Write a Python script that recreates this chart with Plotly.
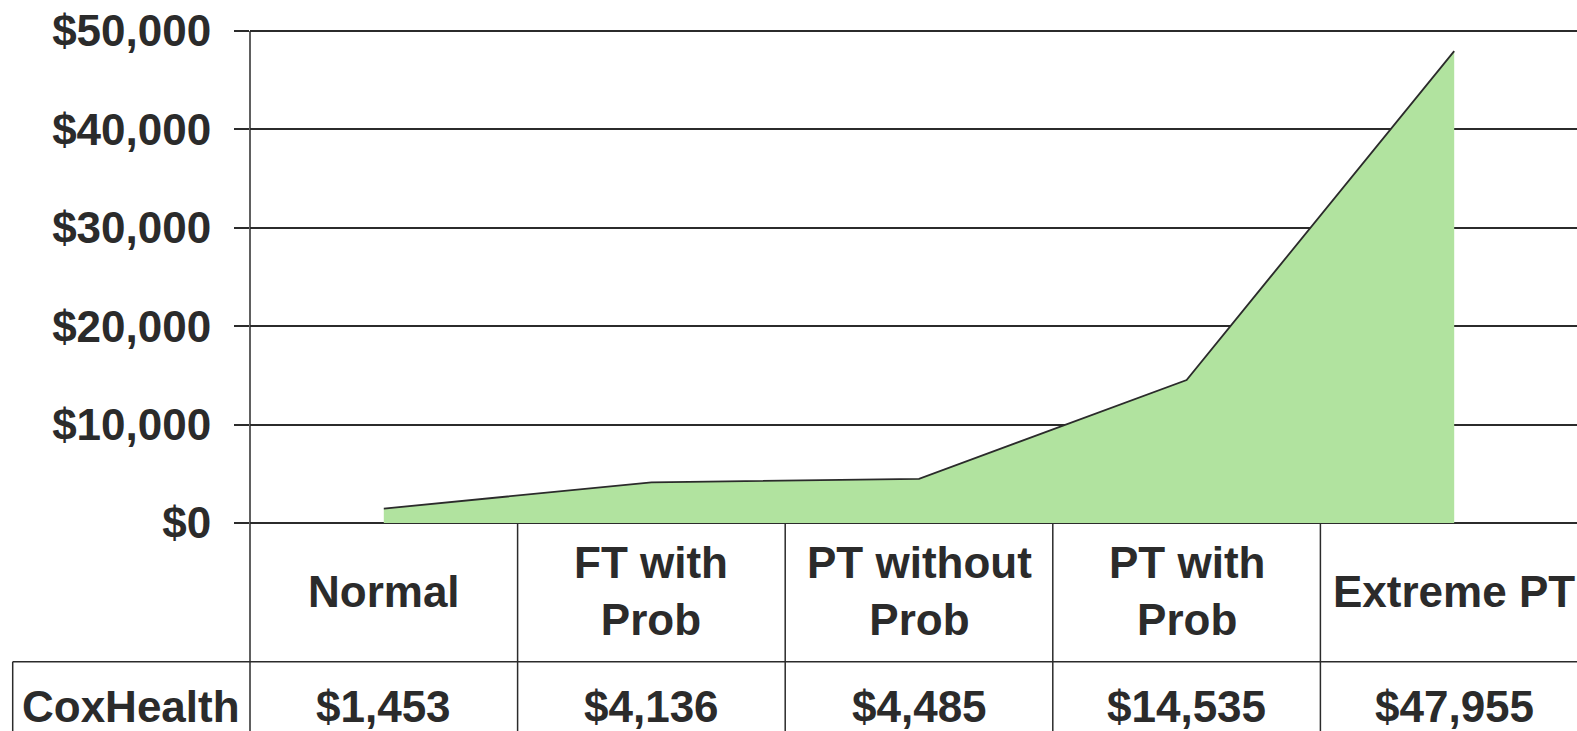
import plotly.graph_objects as go

categories = ["Normal", "FT with<br>Prob", "PT without<br>Prob", "PT with<br>Prob", "Extreme PT"]
values = [1453, 4136, 4485, 14535, 47955]
value_labels = ["$1,453", "$4,136", "$4,485", "$14,535", "$47,955"]
row_name = "CoxHealth"
y_ticks = [0, 10000, 20000, 30000, 40000, 50000]
y_tick_text = ["$0", "$10,000", "$20,000", "$30,000", "$40,000", "$50,000"]

W, H = 1577, 731
L, R, T, B = 250, 0, 31, 208
plot_h = H - T - B
plot_w = W - L - R

def py(p):
    return (H - B - p) / plot_h

def px(p):
    return (p - L) / plot_w

dark = "#2b2b2b"
FONT = "Liberation Sans, Arial, sans-serif"
fs = 44

def tfont():
    return dict(family=FONT, size=fs, color=dark, weight="bold")

xs = list(range(len(categories)))
fig = go.Figure()
fig.add_trace(go.Scatter(
    x=xs, y=values, mode="lines", fill="tozeroy",
    fillcolor="#b1e39f", line=dict(color=dark, width=1.8),
    hoverinfo="skip", showlegend=False,
))

shapes = []
# top gridline
shapes.append(dict(type="line", xref="paper", yref="paper", x0=0, x1=1, y0=1, y1=1,
                   line=dict(color=dark, width=1.8)))
# y axis line extended through table
shapes.append(dict(type="line", xref="paper", yref="paper", x0=0, x1=0, y0=1, y1=py(H + 5),
                   line=dict(color=dark, width=1.5)))
# category dividers
for k in range(len(categories) - 1):
    shapes.append(dict(type="line", xref="x", yref="paper", x0=k + 0.5, x1=k + 0.5,
                       y0=0, y1=py(H + 5), line=dict(color=dark, width=1.5)))
# row divider
shapes.append(dict(type="line", xref="paper", yref="paper", x0=px(12.7), x1=1.0,
                   y0=py(661.7), y1=py(661.7), line=dict(color=dark, width=1.5)))
# left border of row header
shapes.append(dict(type="line", xref="paper", yref="paper", x0=px(12.7), x1=px(12.7),
                   y0=py(661.7), y1=py(H + 5), line=dict(color=dark, width=1.5)))

annotations = []
for i, c in enumerate(categories):
    annotations.append(dict(x=i, xref="x", y=py(591), yref="paper", text=c, showarrow=False,
                            xanchor="center", yanchor="middle", font=tfont()))
    annotations.append(dict(x=i, xref="x", y=py(706), yref="paper", text=value_labels[i],
                            showarrow=False, xanchor="center", yanchor="middle", font=tfont()))
annotations.append(dict(x=px(20), xref="paper", y=py(706), yref="paper", text=row_name,
                        showarrow=False, xanchor="left", yanchor="middle", font=tfont()))

span = (W - L) / 267.6
fig.update_layout(
    width=W, height=H,
    margin=dict(l=L, r=R, t=T, b=B, pad=0),
    paper_bgcolor="white", plot_bgcolor="white",
    font=dict(family=FONT, size=fs, color=dark),
    xaxis=dict(range=[-0.5, -0.5 + span], showticklabels=False, showgrid=False,
               zeroline=False, showline=False, ticks=""),
    yaxis=dict(range=[0, 50000], tickvals=y_ticks, ticktext=y_tick_text,
               showgrid=True, gridcolor=dark, gridwidth=1.5,
               zeroline=True, zerolinecolor=dark, zerolinewidth=1.8,
               showline=False, ticks="outside", ticklen=15, tickcolor=dark, tickwidth=1.5,
               ticklabelstandoff=14, tickfont=tfont()),
    shapes=shapes, annotations=annotations,
)

fig.write_html("out.html", config={"displayModeBar": False},
               post_script="document.body.style.margin='0';")
